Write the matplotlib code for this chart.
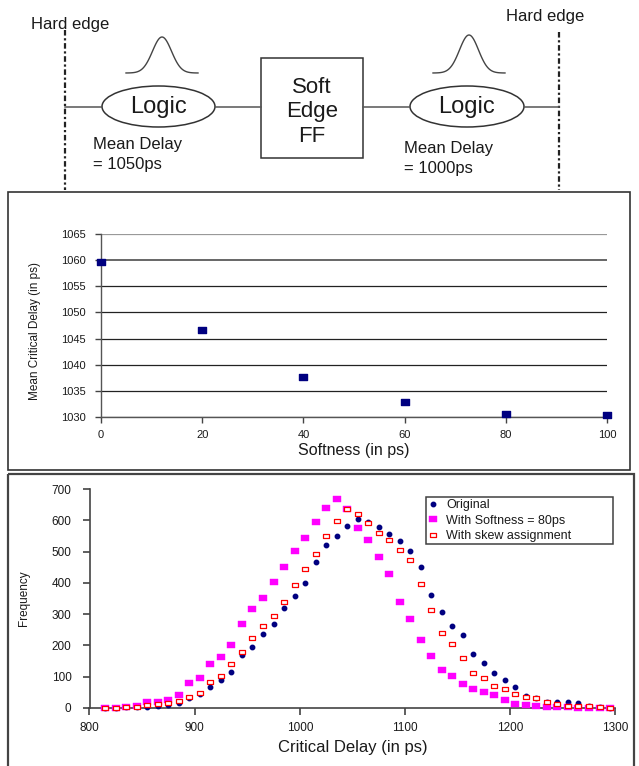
import matplotlib
matplotlib.use('Agg')
import matplotlib.pyplot as plt
import numpy as np
from matplotlib.path import Path
from matplotlib.patches import Ellipse, Rectangle

plt.rcParams['font.family'] = ['Liberation Sans', 'DejaVu Sans']

# ---------------- data ----------------
softness_ps = [0, 20, 40, 60, 80, 100]
mean_critical_delay = [1059.7, 1046.6, 1037.7, 1032.9, 1030.6, 1030.4]

critical_delay = [815, 825, 835, 845, 855, 865, 875, 885, 895, 905,
                  915, 925, 935, 945, 955, 965, 975, 985, 995, 1005,
                  1015, 1025, 1035, 1045, 1055, 1065, 1075, 1085, 1095, 1105,
                  1115, 1125, 1135, 1145, 1155, 1165, 1175, 1185, 1195, 1205,
                  1215, 1225, 1235, 1245, 1255, 1265, 1275, 1285, 1295]
freq_original = [0, 0, 1, 1, 3, 6, 9, 16, 30, 43,
                 67, 89, 115, 168, 196, 236, 269, 319, 358, 400,
                 465, 520, 551, 583, 605, 596, 577, 555, 534, 503,
                 450, 362, 308, 263, 233, 173, 143, 111, 88, 67,
                 39, 31, 20, 19, 17, 16, 7, 2, 0]
freq_softness80 = [0, 0, 3, 6, 19, 19, 26, 42, 80, 95,
                   141, 163, 202, 269, 317, 352, 403, 451, 502, 544,
                   595, 640, 669, 635, 576, 538, 483, 429, 338, 285,
                   218, 166, 122, 102, 77, 61, 51, 41, 25, 12,
                   10, 5, 4, 2, 2, 0, 0, 0, 0]
freq_skew = [0, 0, 3, 3, 9, 12, 16, 21, 33, 48,
             83, 101, 141, 178, 224, 263, 293, 338, 394, 444,
             491, 549, 599, 635, 621, 592, 559, 537, 505, 474,
             396, 314, 239, 203, 158, 112, 95, 70, 59, 44,
             33, 30, 20, 11, 6, 6, 6, 2, 0]
series_labels = ['Original', 'With Softness = 80ps', 'With skew assignment']
x_ticks_bottom = [800, 900, 1000, 1100, 1200, 1300]
y_ticks_bottom = [0, 100, 200, 300, 400, 500, 600, 700]
x_ticks_mid = [0, 20, 40, 60, 80, 100]
y_ticks_mid = [1030, 1035, 1040, 1045, 1050, 1055, 1060, 1065]

# ---------------- figure ----------------
W, H = 639, 766
fig = plt.figure(figsize=(W / 100, H / 100), dpi=100)


def fax(x0, y0, x1, y1):
    return [x0 / W, 1 - y1 / H, (x1 - x0) / W, (y1 - y0) / H]


def rect_marker(aspect):
    verts = [(-1, -aspect), (1, -aspect), (1, aspect), (-1, aspect), (-1, -aspect)]
    codes = [Path.MOVETO, Path.LINETO, Path.LINETO, Path.LINETO, Path.CLOSEPOLY]
    return Path(verts, codes)


# overlay axes in pixel coordinates (diagram + panel borders)
ov = fig.add_axes([0, 0, 1, 1])
ov.set_xlim(0, W)
ov.set_ylim(H, 0)
ov.axis('off')

tc = '#1a1a1a'
lc = '#555555'
# dashed "hard edge" lines
dash = (0, (2.5, 1.2, 1, 1.2))
ov.plot([65, 65], [30, 190], color='#222222', lw=1.6, ls=dash)
ov.plot([559, 559], [32, 190], color='#222222', lw=1.6, ls=dash)
ov.text(31, 25, 'Hard edge', fontsize=12, ha='left', va='center', color=tc)
ov.text(506, 17, 'Hard edge', fontsize=12, ha='left', va='center', color=tc)

# wires
ov.plot([65, 102], [107, 107], color=lc, lw=1.1)
ov.plot([215, 261], [107, 107], color=lc, lw=1.1)
ov.plot([363, 410], [107, 107], color=lc, lw=1.1)
ov.plot([524, 559], [107, 107], color=lc, lw=1.1)

# logic ellipses
ov.add_patch(Ellipse((158.5, 106.5), 113, 41, fill=False, ec='#333333', lw=1.1))
ov.add_patch(Ellipse((467, 106.5), 114, 41, fill=False, ec='#333333', lw=1.1))
ov.text(158.5, 107, 'Logic', fontsize=17, ha='center', va='center', color=tc)
ov.text(467, 107, 'Logic', fontsize=17, ha='center', va='center', color=tc)

# soft edge FF box
ov.add_patch(Rectangle((261, 58), 102, 100, fill=False, ec='#333333', lw=1.1))
ov.text(312, 87.5, 'Soft', fontsize=16, ha='center', va='center', color=tc)
ov.text(312, 112, 'Edge', fontsize=16, ha='center', va='center', color=tc)
ov.text(312, 136.5, 'FF', fontsize=16, ha='center', va='center', color=tc)

# delay annotations
ov.text(93, 144, 'Mean Delay', fontsize=12, ha='left', va='center', color=tc)
ov.text(93, 164, '= 1050ps', fontsize=12, ha='left', va='center', color=tc)
ov.text(404, 149, 'Mean Delay', fontsize=12, ha='left', va='center', color=tc)
ov.text(404, 168, '= 1000ps', fontsize=12, ha='left', va='center', color=tc)

# bell-shaped distribution icons
for cx, top in [(162, 37), (469, 35)]:
    t = np.linspace(-36, 36, 120)
    ov.plot(cx + t, 73 - (73 - top) * np.exp(-0.5 * (t / 9.5) ** 2), color='#444444', lw=1.0)

# panel borders
ov.add_patch(Rectangle((8, 192.3), 630 - 8, 470 - 192.3, fill=False, ec='#333333', lw=1.2))
ov.add_patch(Rectangle((8, 473.5), 633.5 - 8, 300, fill=False, ec='#444444', lw=1.6))

# ---------------- middle chart ----------------
ax1 = fig.add_axes(fax(101, 233.7, 607, 417.3))
ax1.set_facecolor('none')
ax1.set_xlim(0, 100)
ax1.set_ylim(1030, 1065)
ax1.set_xticks(x_ticks_mid)
ax1.set_yticks(y_ticks_mid)
ax1.grid(axis='y', color='#222222', lw=0.9)
ax1.get_ygridlines()[-1].set_color('#999999')
ax1.get_ygridlines()[-2].set_color('#666666')
ax1.get_ygridlines()[-2].set_linewidth(1.4)
ax1.set_axisbelow(True)
for s in ['top', 'right']:
    ax1.spines[s].set_visible(False)
for s in ['left', 'bottom']:
    ax1.spines[s].set_color('#555555')
    ax1.spines[s].set_linewidth(1.0)
ax1.tick_params(direction='out', length=4.5, width=1, color='#444444', labelsize=8,
                labelcolor=tc)
ax1.tick_params(axis='y', pad=6.5)
ax1.tick_params(axis='x', pad=4.5)
ax1.plot(softness_ps, mean_critical_delay, ls='none', marker=rect_marker(0.75),
         ms=6, color='#000080', mec='#000080', clip_on=False, zorder=5)
ax1.set_xlabel('Softness (in ps)', fontsize=11.5, color=tc)
ax1.xaxis.set_label_coords(0.5, -0.14)
ax1.set_ylabel('Mean Critical Delay (in ps)', fontsize=8.5, color=tc)
ax1.yaxis.set_label_coords(-0.118, 0.47)

# ---------------- bottom chart ----------------
ax2 = fig.add_axes(fax(89.5, 489, 615.3, 707.8))
ax2.set_facecolor('none')
ax2.set_xlim(800, 1300)
ax2.set_ylim(0, 700)
ax2.set_xticks(x_ticks_bottom)
ax2.set_yticks(y_ticks_bottom)
for s in ['top', 'right']:
    ax2.spines[s].set_visible(False)
for s in ['left', 'bottom']:
    ax2.spines[s].set_color('#444444')
    ax2.spines[s].set_linewidth(1.2)
ax2.tick_params(direction='out', length=5, width=1.1, color='#333333', labelsize=8.5,
                labelcolor=tc)
ax2.tick_params(axis='y', pad=8)
ax2.tick_params(axis='x', pad=5.5)

ax2.plot(critical_delay, freq_original, ls='none', marker='o', ms=3.2,
         color='#000080', mec='#000080', label=series_labels[0], clip_on=False, zorder=3)
ax2.plot(critical_delay, freq_softness80, ls='none', marker=rect_marker(0.72), ms=6.2,
         color='#FF00FF', mec='#FF00FF', mew=0.3, label=series_labels[1], clip_on=False, zorder=4)
ax2.plot(critical_delay, freq_skew, ls='none', marker=rect_marker(0.68), ms=3.8,
         mfc='white', mec='#FF0000', mew=0.9, label=series_labels[2], clip_on=False, zorder=5)

ax2.set_xlabel('Critical Delay (in ps)', fontsize=12, color=tc)
ax2.xaxis.set_label_coords(0.5, -0.145)
ax2.set_ylabel('Frequency', fontsize=8.5, color=tc)
ax2.yaxis.set_label_coords(-0.113, 0.5)

lx0 = (425.7 - 89.5) / 525.8
lw_ = (612.7 - 425.7) / 525.8
ly0 = (707.8 - 544.3) / 218.8
lh_ = (544.3 - 496) / 218.8
leg = ax2.legend(loc='lower left', bbox_to_anchor=(lx0, ly0, lw_, lh_), mode='expand',
                 borderaxespad=0, fontsize=9, numpoints=1, handlelength=0.9,
                 handletextpad=0.6, borderpad=0.15, labelspacing=0.3,
                 fancybox=False, frameon=True)
leg.get_frame().set_edgecolor('#111111')
leg.get_frame().set_linewidth(1.1)
for t in leg.get_texts():
    t.set_color(tc)

fig.savefig('out.png', dpi=100)
